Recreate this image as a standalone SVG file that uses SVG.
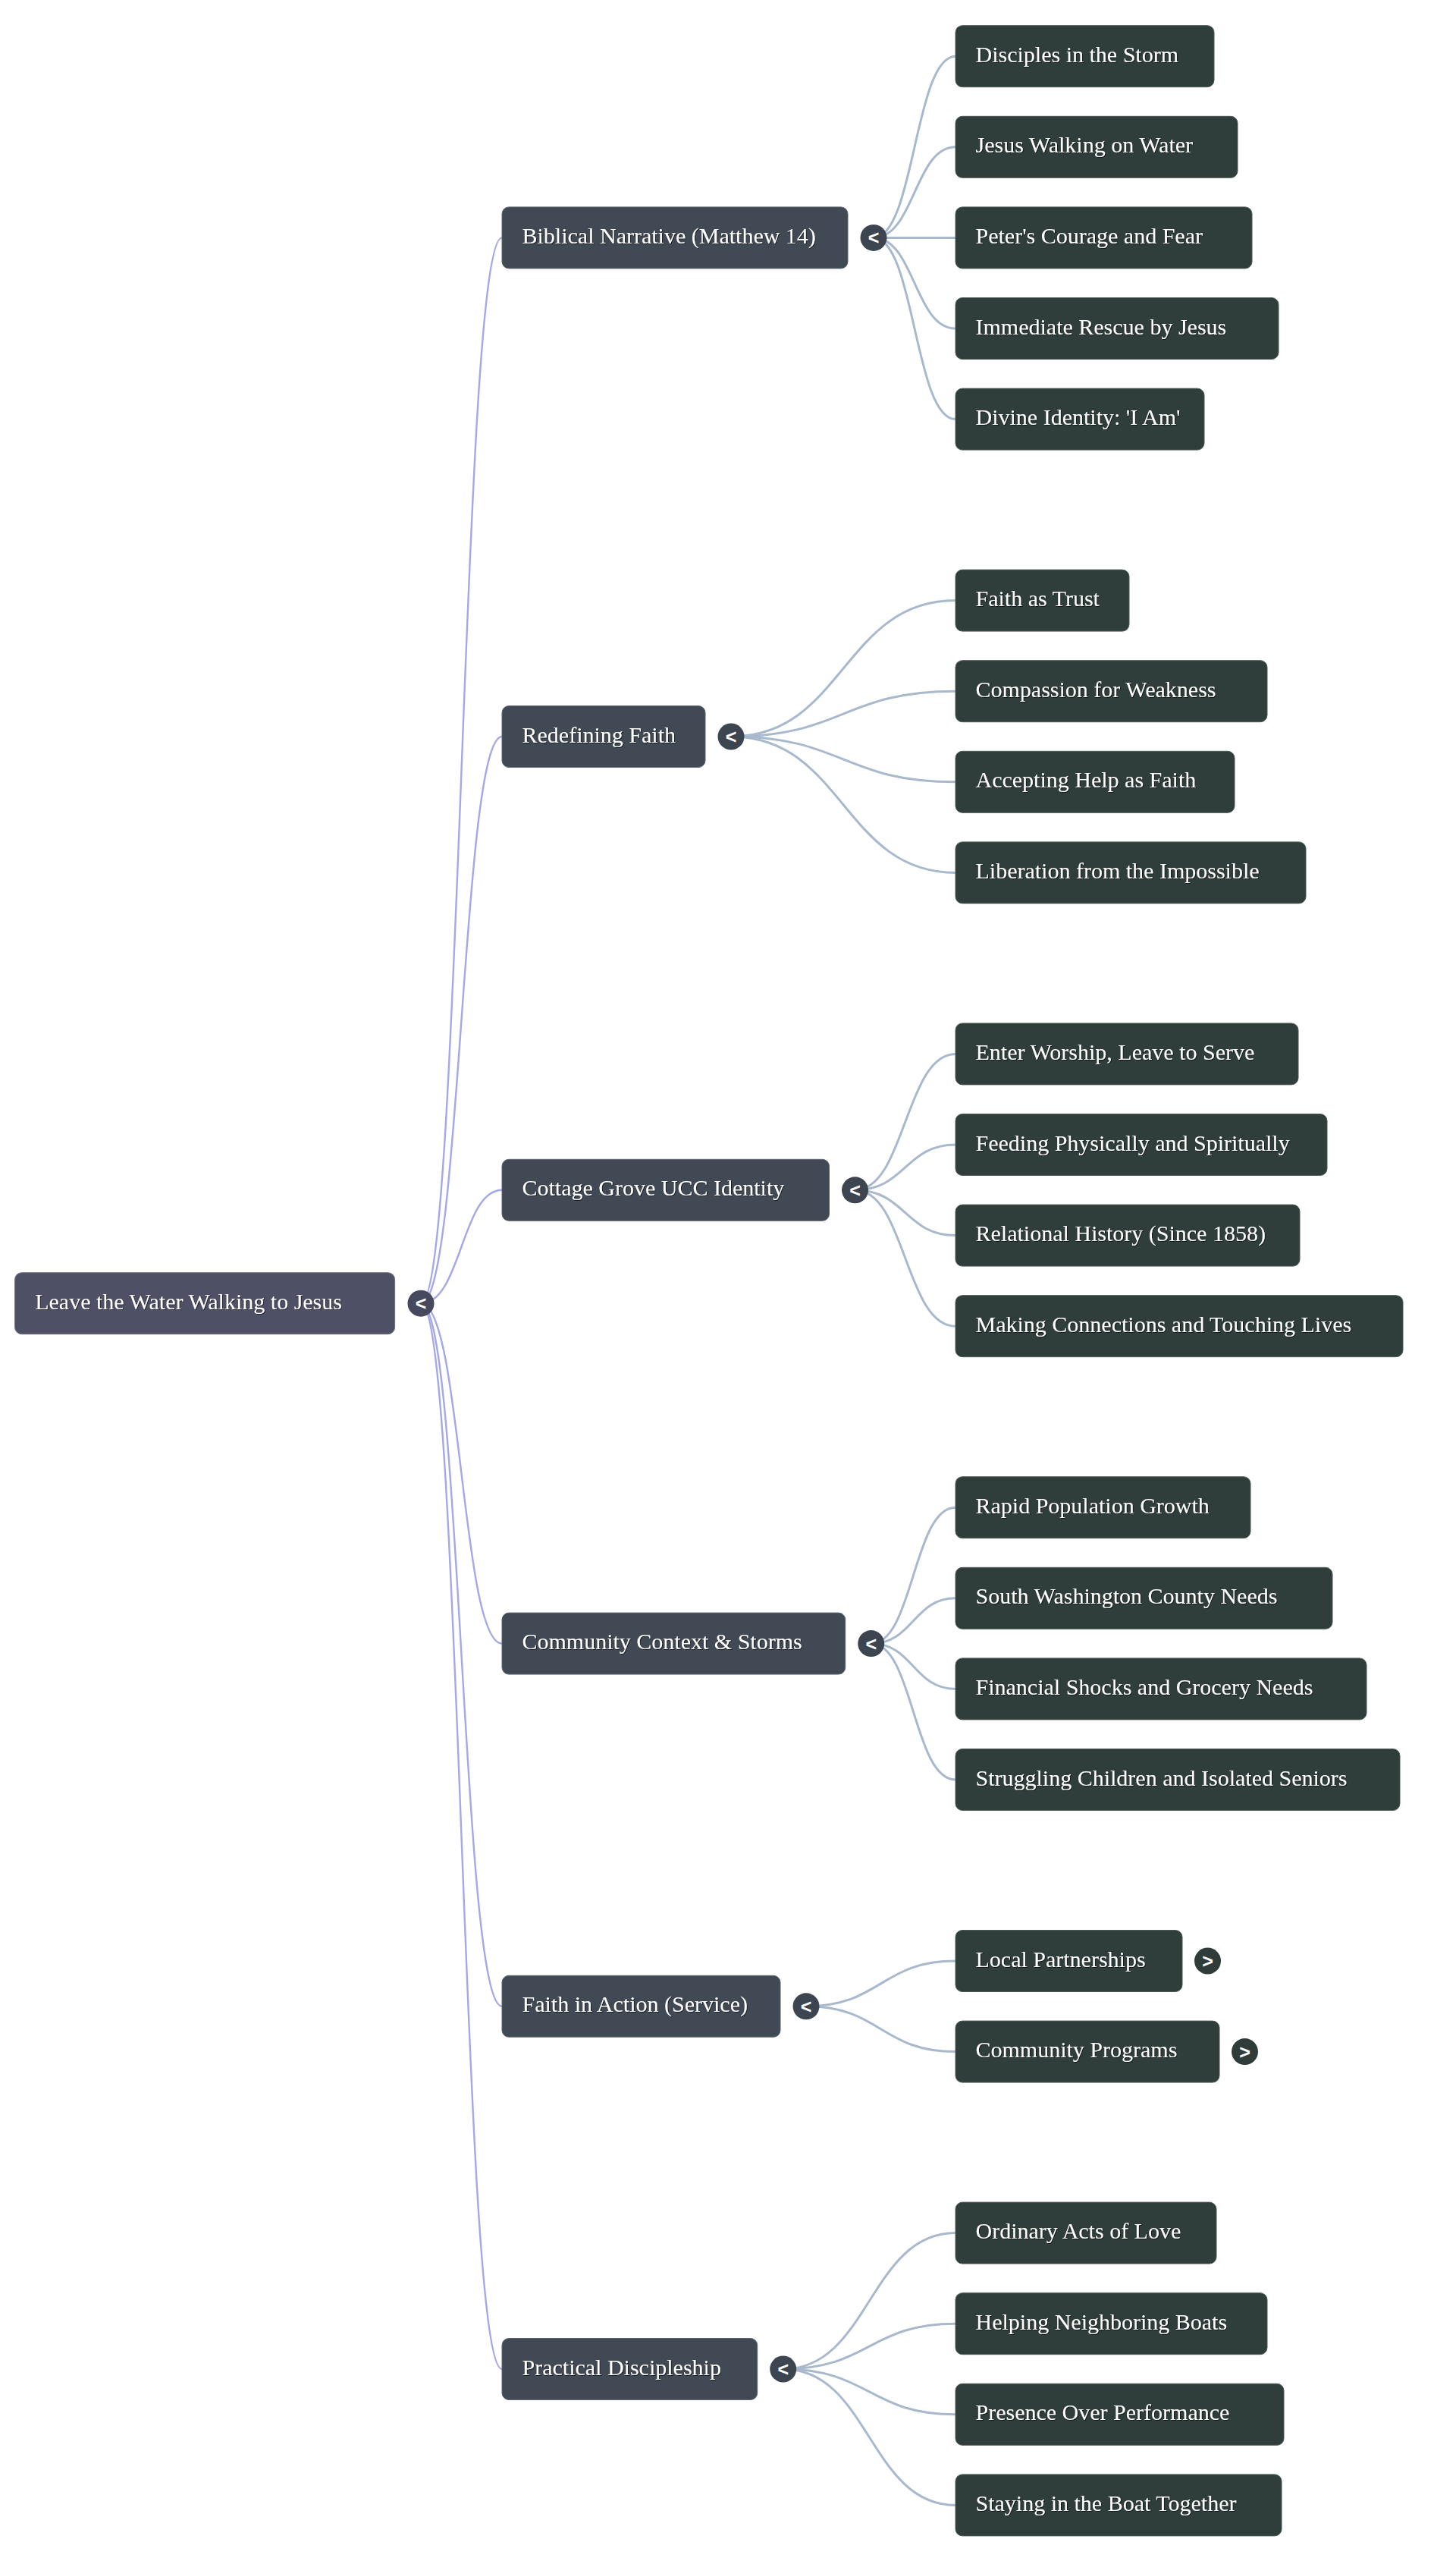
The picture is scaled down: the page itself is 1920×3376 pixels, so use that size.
<svg xmlns="http://www.w3.org/2000/svg" width="1920" height="3376" viewBox="0 0 1920 3376">
<defs>
<filter id="ts" x="-5%" y="-20%" width="110%" height="140%">
<feDropShadow dx="1" dy="1" stdDeviation="0.6" flood-color="#000" flood-opacity="0.6"/>
</filter>
</defs>
<style>
.root rect.box{fill:#4e5166;stroke:#6c6f82;stroke-width:1}
.l1 rect.box{fill:#414a54;stroke:#5e666f;stroke-width:1}
.l2 rect.box{fill:#303e3b;stroke:#4e5a57;stroke-width:1}
.lbl{font-family:"Liberation Serif","Times New Roman",serif;font-size:30px;fill:#ffffff;filter:url(#ts)}
.root circle{fill:#474a5e}
.l1 circle{fill:#3d4650}
.l2 circle{fill:#2f3c39}
.tg{font-family:"Liberation Sans",Arial,sans-serif;font-size:25px;font-weight:bold;fill:#ffffff;text-anchor:middle;dominant-baseline:central}
.c0{fill:none;stroke:#a5a8e6;stroke-width:2.4}
.c1{fill:none;stroke:#a9b9cd;stroke-width:3}
</style>
<g id="connectors">
<path class="c0" d="M555 1718.2 C608.5 1718.2 608.5 313.4 662 313.4"/>
<path class="c0" d="M555 1718.2 C608.5 1718.2 608.5 971 662 971"/>
<path class="c0" d="M555 1718.2 C608.5 1718.2 608.5 1568.8 662 1568.8"/>
<path class="c0" d="M555 1718.2 C608.5 1718.2 608.5 2166.6 662 2166.6"/>
<path class="c0" d="M555 1718.2 C608.5 1718.2 608.5 2644.8 662 2644.8"/>
<path class="c0" d="M555 1718.2 C608.5 1718.2 608.5 3123 662 3123"/>
<path class="c1" d="M1152 313.4 C1206 313.4 1206 74.2 1260 74.2"/>
<path class="c1" d="M1152 313.4 C1206 313.4 1206 193.8 1260 193.8"/>
<path class="c1" d="M1152 313.4 C1206 313.4 1206 313.4 1260 313.4"/>
<path class="c1" d="M1152 313.4 C1206 313.4 1206 433 1260 433"/>
<path class="c1" d="M1152 313.4 C1206 313.4 1206 552.6 1260 552.6"/>
<path class="c1" d="M964 971 C1112 971 1112 791.6 1260 791.6"/>
<path class="c1" d="M964 971 C1112 971 1112 911.2 1260 911.2"/>
<path class="c1" d="M964 971 C1112 971 1112 1030.8 1260 1030.8"/>
<path class="c1" d="M964 971 C1112 971 1112 1150.4 1260 1150.4"/>
<path class="c1" d="M1127.5 1568.8 C1193.75 1568.8 1193.75 1389.4 1260 1389.4"/>
<path class="c1" d="M1127.5 1568.8 C1193.75 1568.8 1193.75 1509 1260 1509"/>
<path class="c1" d="M1127.5 1568.8 C1193.75 1568.8 1193.75 1628.6 1260 1628.6"/>
<path class="c1" d="M1127.5 1568.8 C1193.75 1568.8 1193.75 1748.2 1260 1748.2"/>
<path class="c1" d="M1148.7 2166.6 C1204.35 2166.6 1204.35 1987.2 1260 1987.2"/>
<path class="c1" d="M1148.7 2166.6 C1204.35 2166.6 1204.35 2106.8 1260 2106.8"/>
<path class="c1" d="M1148.7 2166.6 C1204.35 2166.6 1204.35 2226.4 1260 2226.4"/>
<path class="c1" d="M1148.7 2166.6 C1204.35 2166.6 1204.35 2346 1260 2346"/>
<path class="c1" d="M1063 2644.8 C1161.5 2644.8 1161.5 2585 1260 2585"/>
<path class="c1" d="M1063 2644.8 C1161.5 2644.8 1161.5 2704.6 1260 2704.6"/>
<path class="c1" d="M1032.7 3123 C1146.35 3123 1146.35 2943.6 1260 2943.6"/>
<path class="c1" d="M1032.7 3123 C1146.35 3123 1146.35 3063.2 1260 3063.2"/>
<path class="c1" d="M1032.7 3123 C1146.35 3123 1146.35 3182.8 1260 3182.8"/>
<path class="c1" d="M1032.7 3123 C1146.35 3123 1146.35 3302.4 1260 3302.4"/>
</g>
<g id="root" class="root">
<rect class="box" x="19.6" y="1677.7" width="501" height="81" rx="9"/>
<text class="lbl" x="46.2" y="1725.7">Leave the Water Walking to Jesus</text>
<circle cx="555" cy="1718.2" r="17.5"/>
<text class="tg" x="555" y="1718.2">&lt;</text>
</g>
<g id="biblical" class="l1">
<rect class="box" x="662" y="272.9" width="456" height="81" rx="9"/>
<text class="lbl" x="688.5" y="320.9">Biblical Narrative (Matthew 14)</text>
<circle cx="1152" cy="313.4" r="17.5"/>
<text class="tg" x="1152" y="313.4">&lt;</text>
</g>
<g id="redefining" class="l1">
<rect class="box" x="662" y="930.5" width="268" height="81" rx="9"/>
<text class="lbl" x="688.5" y="978.5">Redefining Faith</text>
<circle cx="964" cy="971" r="17.5"/>
<text class="tg" x="964" y="971">&lt;</text>
</g>
<g id="cottage" class="l1">
<rect class="box" x="662" y="1528.3" width="431.5" height="81" rx="9"/>
<text class="lbl" x="688.5" y="1576.3">Cottage Grove UCC Identity</text>
<circle cx="1127.5" cy="1568.8" r="17.5"/>
<text class="tg" x="1127.5" y="1568.8">&lt;</text>
</g>
<g id="community" class="l1">
<rect class="box" x="662" y="2126.1" width="452.7" height="81" rx="9"/>
<text class="lbl" x="688.5" y="2174.1">Community Context &amp; Storms</text>
<circle cx="1148.7" cy="2166.6" r="17.5"/>
<text class="tg" x="1148.7" y="2166.6">&lt;</text>
</g>
<g id="action" class="l1">
<rect class="box" x="662" y="2604.3" width="367" height="81" rx="9"/>
<text class="lbl" x="688.5" y="2652.3">Faith in Action (Service)</text>
<circle cx="1063" cy="2644.8" r="17.5"/>
<text class="tg" x="1063" y="2644.8">&lt;</text>
</g>
<g id="practical" class="l1">
<rect class="box" x="662" y="3082.5" width="336.7" height="81" rx="9"/>
<text class="lbl" x="688.5" y="3130.5">Practical Discipleship</text>
<circle cx="1032.7" cy="3123" r="17.5"/>
<text class="tg" x="1032.7" y="3123">&lt;</text>
</g>
<g id="n-disciples" class="l2"><rect class="box" x="1260" y="33.7" width="341" height="81" rx="9"/><text class="lbl" x="1286.5" y="81.7">Disciples in the Storm</text></g>
<g id="n-walking" class="l2"><rect class="box" x="1260" y="153.3" width="372" height="81" rx="9"/><text class="lbl" x="1286.5" y="201.3">Jesus Walking on Water</text></g>
<g id="n-peter" class="l2"><rect class="box" x="1260" y="272.9" width="391" height="81" rx="9"/><text class="lbl" x="1286.5" y="320.9">Peter's Courage and Fear</text></g>
<g id="n-rescue" class="l2"><rect class="box" x="1260" y="392.5" width="426" height="81" rx="9"/><text class="lbl" x="1286.5" y="440.5">Immediate Rescue by Jesus</text></g>
<g id="n-identity" class="l2"><rect class="box" x="1260" y="512.1" width="328" height="81" rx="9"/><text class="lbl" x="1286.5" y="560.1">Divine Identity: 'I Am'</text></g>
<g id="n-trust" class="l2"><rect class="box" x="1260" y="751.1" width="229" height="81" rx="9"/><text class="lbl" x="1286.5" y="799.1">Faith as Trust</text></g>
<g id="n-compassion" class="l2"><rect class="box" x="1260" y="870.7" width="411" height="81" rx="9"/><text class="lbl" x="1286.5" y="918.7">Compassion for Weakness</text></g>
<g id="n-accepting" class="l2"><rect class="box" x="1260" y="990.3" width="368" height="81" rx="9"/><text class="lbl" x="1286.5" y="1038.3">Accepting Help as Faith</text></g>
<g id="n-liberation" class="l2"><rect class="box" x="1260" y="1109.9" width="462" height="81" rx="9"/><text class="lbl" x="1286.5" y="1157.9">Liberation from the Impossible</text></g>
<g id="n-worship" class="l2"><rect class="box" x="1260" y="1348.9" width="452" height="81" rx="9"/><text class="lbl" x="1286.5" y="1396.9">Enter Worship, Leave to Serve</text></g>
<g id="n-feeding" class="l2"><rect class="box" x="1260" y="1468.5" width="490" height="81" rx="9"/><text class="lbl" x="1286.5" y="1516.5">Feeding Physically and Spiritually</text></g>
<g id="n-history" class="l2"><rect class="box" x="1260" y="1588.1" width="454" height="81" rx="9"/><text class="lbl" x="1286.5" y="1636.1">Relational History (Since 1858)</text></g>
<g id="n-connections" class="l2"><rect class="box" x="1260" y="1707.7" width="590" height="81" rx="9"/><text class="lbl" x="1286.5" y="1755.7">Making Connections and Touching Lives</text></g>
<g id="n-growth" class="l2"><rect class="box" x="1260" y="1946.7" width="389" height="81" rx="9"/><text class="lbl" x="1286.5" y="1994.7">Rapid Population Growth</text></g>
<g id="n-county" class="l2"><rect class="box" x="1260" y="2066.3" width="497" height="81" rx="9"/><text class="lbl" x="1286.5" y="2114.3">South Washington County Needs</text></g>
<g id="n-financial" class="l2"><rect class="box" x="1260" y="2185.9" width="542" height="81" rx="9"/><text class="lbl" x="1286.5" y="2233.9">Financial Shocks and Grocery Needs</text></g>
<g id="n-struggling" class="l2"><rect class="box" x="1260" y="2305.5" width="586" height="81" rx="9"/><text class="lbl" x="1286.5" y="2353.5">Struggling Children and Isolated Seniors</text></g>
<g id="n-partnerships" class="l2"><rect class="box" x="1260" y="2544.5" width="299" height="81" rx="9"/><text class="lbl" x="1286.5" y="2592.5">Local Partnerships</text><circle cx="1592.5" cy="2585" r="17.5"/><text class="tg" x="1592.5" y="2585">&gt;</text></g>
<g id="n-programs" class="l2"><rect class="box" x="1260" y="2664.1" width="348" height="81" rx="9"/><text class="lbl" x="1286.5" y="2712.1">Community Programs</text><circle cx="1641.5" cy="2704.6" r="17.5"/><text class="tg" x="1641.5" y="2704.6">&gt;</text></g>
<g id="n-ordinary" class="l2"><rect class="box" x="1260" y="2903.1" width="344" height="81" rx="9"/><text class="lbl" x="1286.5" y="2951.1">Ordinary Acts of Love</text></g>
<g id="n-boats" class="l2"><rect class="box" x="1260" y="3022.7" width="411" height="81" rx="9"/><text class="lbl" x="1286.5" y="3070.7">Helping Neighboring Boats</text></g>
<g id="n-presence" class="l2"><rect class="box" x="1260" y="3142.3" width="433" height="81" rx="9"/><text class="lbl" x="1286.5" y="3190.3">Presence Over Performance</text></g>
<g id="n-together" class="l2"><rect class="box" x="1260" y="3261.9" width="430" height="81" rx="9"/><text class="lbl" x="1286.5" y="3309.9">Staying in the Boat Together</text></g>
</svg>
